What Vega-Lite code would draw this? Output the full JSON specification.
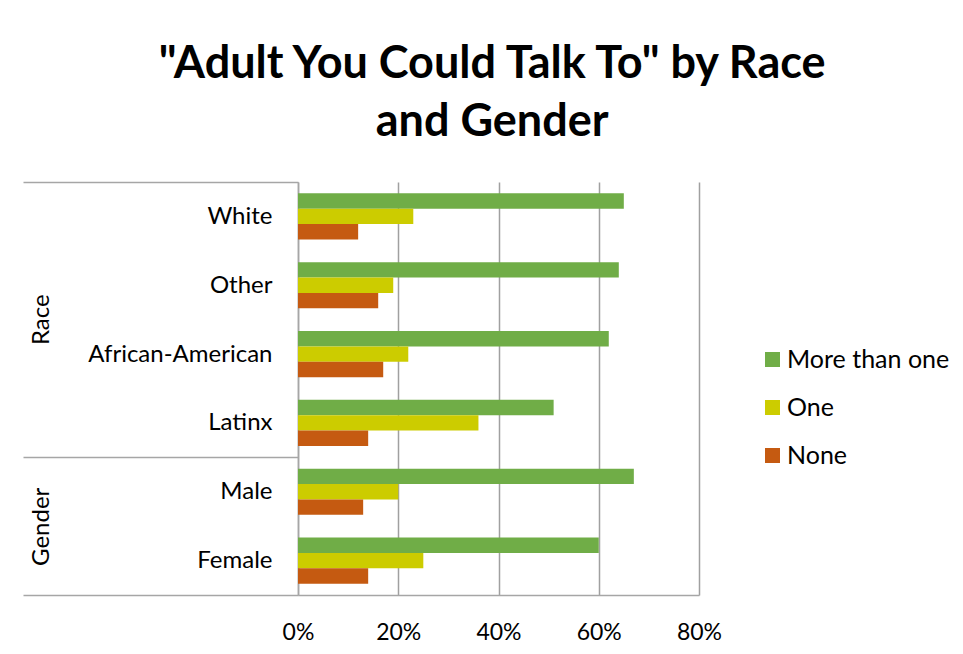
{
  "$schema": "https://vega.github.io/schema/vega-lite/v6.json",
  "padding": {"left": 22, "top": 42, "right": 5, "bottom": 5},
  "background": "white",
  "title": {
    "text": ["\"Adult You Could Talk To\" by Race", "and Gender"],
    "font": "Lato", "fontSize": 45, "fontWeight": "bold", "color": "#000000",
    "anchor": "middle", "lineHeight": 58, "offset": 25, "dx": 6
  },
  "config": {
    "view": {"stroke": null}
  },
  "resolve": {"scale": {"y": "independent"}},
  "datasets": {
    "bars": [
      {"cat": "White", "series": "More than one", "value": 0.65},
      {"cat": "White", "series": "One", "value": 0.23},
      {"cat": "White", "series": "None", "value": 0.12},
      {"cat": "Other", "series": "More than one", "value": 0.64},
      {"cat": "Other", "series": "One", "value": 0.19},
      {"cat": "Other", "series": "None", "value": 0.16},
      {"cat": "African-American", "series": "More than one", "value": 0.62},
      {"cat": "African-American", "series": "One", "value": 0.22},
      {"cat": "African-American", "series": "None", "value": 0.17},
      {"cat": "Latinx", "series": "More than one", "value": 0.51},
      {"cat": "Latinx", "series": "One", "value": 0.36},
      {"cat": "Latinx", "series": "None", "value": 0.14},
      {"cat": "Male", "series": "More than one", "value": 0.67},
      {"cat": "Male", "series": "One", "value": 0.20},
      {"cat": "Male", "series": "None", "value": 0.13},
      {"cat": "Female", "series": "More than one", "value": 0.60},
      {"cat": "Female", "series": "One", "value": 0.25},
      {"cat": "Female", "series": "None", "value": 0.14}
    ]
  },
  "spacing": -39,
  "hconcat": [
    {
      "spacing": 0,
      "vconcat": [
        {
          "width": 38,
          "height": 275.33,
          "data": {"values": [{"group": "Race"}]},
          "mark": {"type": "text", "angle": 270, "align": "center", "baseline": "middle", "font": "Lato", "fontSize": 24, "color": "#000000"},
          "encoding": {"text": {"field": "group"}}
        },
        {
          "width": 38,
          "height": 137.67,
          "data": {"values": [{"group": "Gender"}]},
          "mark": {"type": "text", "angle": 270, "align": "center", "baseline": "middle", "font": "Lato", "fontSize": 24, "color": "#000000"},
          "encoding": {"text": {"field": "group"}}
        }
      ]
    },
    {
      "width": 401,
      "height": 413,
      "data": {"name": "bars"},
      "mark": {"type": "bar"},
      "encoding": {
        "y": {
          "field": "cat", "type": "nominal",
          "sort": ["White", "Other", "African-American", "Latinx", "Male", "Female"],
          "scale": {"paddingInner": 0, "paddingOuter": 0},
          "axis": {
            "title": null,
            "labelFont": "Lato", "labelFontSize": 24, "labelColor": "#000000", "labelLimit": 400,
            "domainColor": "#A6A6A6", "domainWidth": 1.5,
            "tickBand": "extent", "tickSize": 275, "tickColor": "#A6A6A6", "tickWidth": 1.5,
            "tickOpacity": {"condition": {"test": "!datum.value || datum.extra || datum.value === 'Latinx' || datum.value === 'Female'", "value": 1}, "value": 0},
            "labelPadding": -249
          }
        },
        "yOffset": {
          "field": "series", "type": "nominal",
          "sort": ["More than one", "One", "None"],
          "scale": {"paddingInner": 0, "paddingOuter": 0.735}
        },
        "x": {
          "field": "value", "type": "quantitative",
          "scale": {"domain": [0, 0.8]},
          "axis": {
            "title": null, "format": "%", "values": [0, 0.2, 0.4, 0.6, 0.8],
            "grid": true, "gridColor": "#A0A0A0", "gridWidth": 1.5,
            "ticks": false, "domainColor": "#A6A6A6", "domainWidth": 1.5,
            "labelFont": "Lato", "labelFontSize": 23, "labelColor": "#000000",
            "labelPadding": 26, "labelFlush": false
          }
        },
        "color": {
          "field": "series", "type": "nominal",
          "sort": ["More than one", "One", "None"],
          "scale": {"domain": ["More than one", "One", "None"], "range": ["#70AD47", "#CCCC00", "#C55A11"]},
          "legend": {
            "orient": "none", "legendX": 737, "legendY": 165, "title": null,
            "symbolType": "square", "symbolSize": 225, "symbolStrokeWidth": 0,
            "labelFont": "Lato", "labelFontSize": 25, "labelColor": "#000000", "labelLimit": 300,
            "rowPadding": 22, "labelOffset": 2, "padding": 0
          }
        }
      }
    }
  ]
}
